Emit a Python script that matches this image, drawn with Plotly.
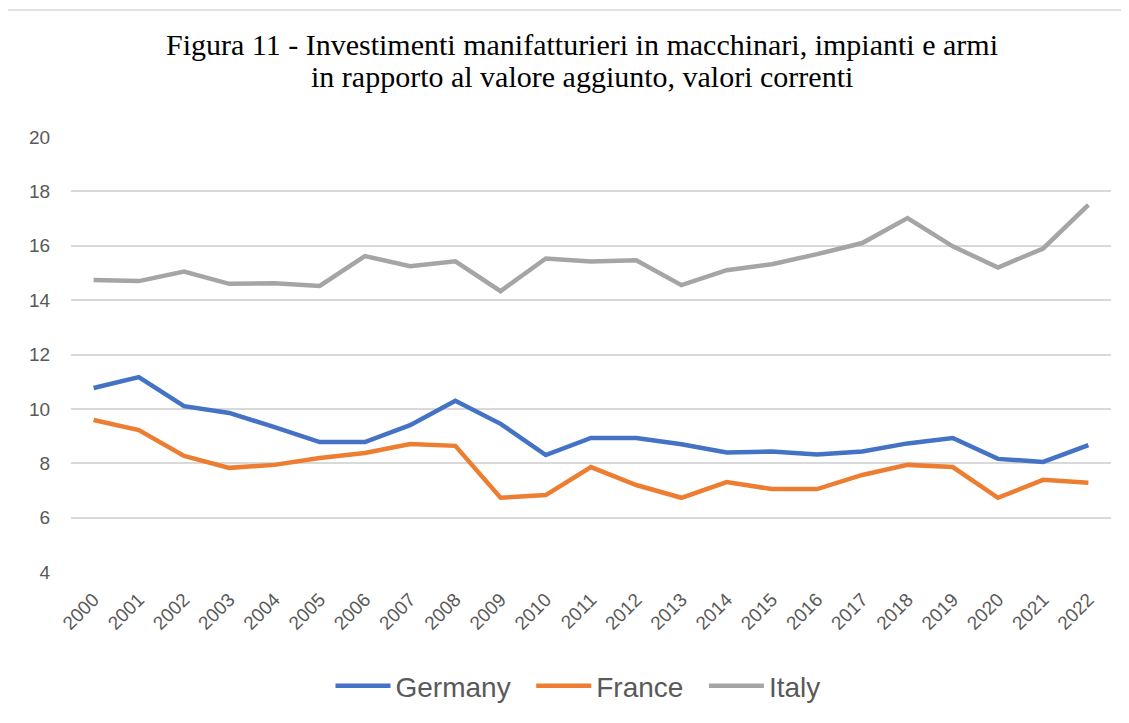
import plotly.graph_objects as go

years = [str(y) for y in range(2000, 2023)]
germany = [10.77, 11.17, 10.1, 9.85, 9.33, 8.78, 8.78, 9.4, 10.3, 9.45, 8.3, 8.93, 8.93,
           8.7, 8.4, 8.43, 8.32, 8.43, 8.73, 8.93, 8.16, 8.05, 8.67]
france = [9.59, 9.22, 8.27, 7.83, 7.94, 8.19, 8.38, 8.71, 8.64, 6.73, 6.83, 7.86, 7.2,
          6.73, 7.31, 7.05, 7.05, 7.57, 7.94, 7.86, 6.73, 7.39, 7.28]
italy = [14.74, 14.7, 15.05, 14.6, 14.62, 14.52, 15.62, 15.25, 15.43, 14.33, 15.53, 15.42, 15.47,
         14.55, 15.1, 15.32, 15.69, 16.1, 17.02, 15.98, 15.2, 15.9, 17.5]
y_ticks = [4, 6, 8, 10, 12, 14, 16, 18, 20]
title_lines = ["Figura 11 - Investimenti manifatturieri in macchinari, impianti e armi",
               "in rapporto al valore aggiunto, valori correnti"]

series = [("Germany", germany, "#4472C4"), ("France", france, "#ED7D31"), ("Italy", italy, "#A5A5A5")]

fig = go.Figure()
n = len(series)
for i, (name, vals, color) in enumerate(series):
    label = name + ("\u00a0\u00a0" if i < n - 1 else "")
    fig.add_trace(go.Scatter(x=years, y=vals, name=label, mode="lines",
                             line=dict(color=color, width=4.5)))

# page has an 8px body margin; figure coordinates = page coordinates - 8
OFF = 8
W, H = 1129 - OFF, 723 - OFF
L, T = 71 - OFF, 137 - OFF
PR, PB = 1111 - OFF, 572 - OFF
R, B = W - PR, H - PB
pw, ph = PR - L, PB - T

def px(x):
    return (x - OFF - L) / pw

def py(y):
    return (PB - (y - OFF)) / ph

annotations = []
for line, yc in zip(title_lines, [45, 77]):
    annotations.append(dict(text=line, xref="paper", yref="paper", x=px(582), y=py(yc),
                            xanchor="center", yanchor="middle", showarrow=False,
                            font=dict(family="Liberation Serif", size=30, color="#000000")))

fig.update_layout(
    width=W, height=H,
    margin=dict(l=L, r=R, t=T, b=B),
    paper_bgcolor="white", plot_bgcolor="white",
    annotations=annotations,
    xaxis=dict(type="category", range=[-0.5, len(years) - 0.5], tickangle=-45,
               showgrid=False, showline=False, ticks="outside", ticklen=8, tickcolor="rgba(0,0,0,0)",
               automargin=False,
               tickfont=dict(family="Liberation Sans", size=19, color="#595959")),
    yaxis=dict(range=[4, 20], tickvals=y_ticks, showgrid=True, gridcolor="#D9D9D9", gridwidth=1.5,
               zeroline=False, showline=False, ticks="outside", ticklen=16,
               tickcolor="rgba(0,0,0,0)", automargin=False,
               tickfont=dict(family="Liberation Sans", size=19, color="#595959")),
    legend=dict(orientation="h", x=px(578), xanchor="center", y=py(686), yanchor="middle",
                font=dict(family="Liberation Sans", size=28, color="#595959"),
                itemwidth=55, traceorder="normal"),
    showlegend=True,
    shapes=[dict(type="line", xref="paper", yref="paper",
                 x0=px(OFF), x1=px(1129), y0=py(10), y1=py(10),
                 line=dict(color="#D9D9D9", width=1.5), layer="below")],
)

fig.write_html("out.html")
